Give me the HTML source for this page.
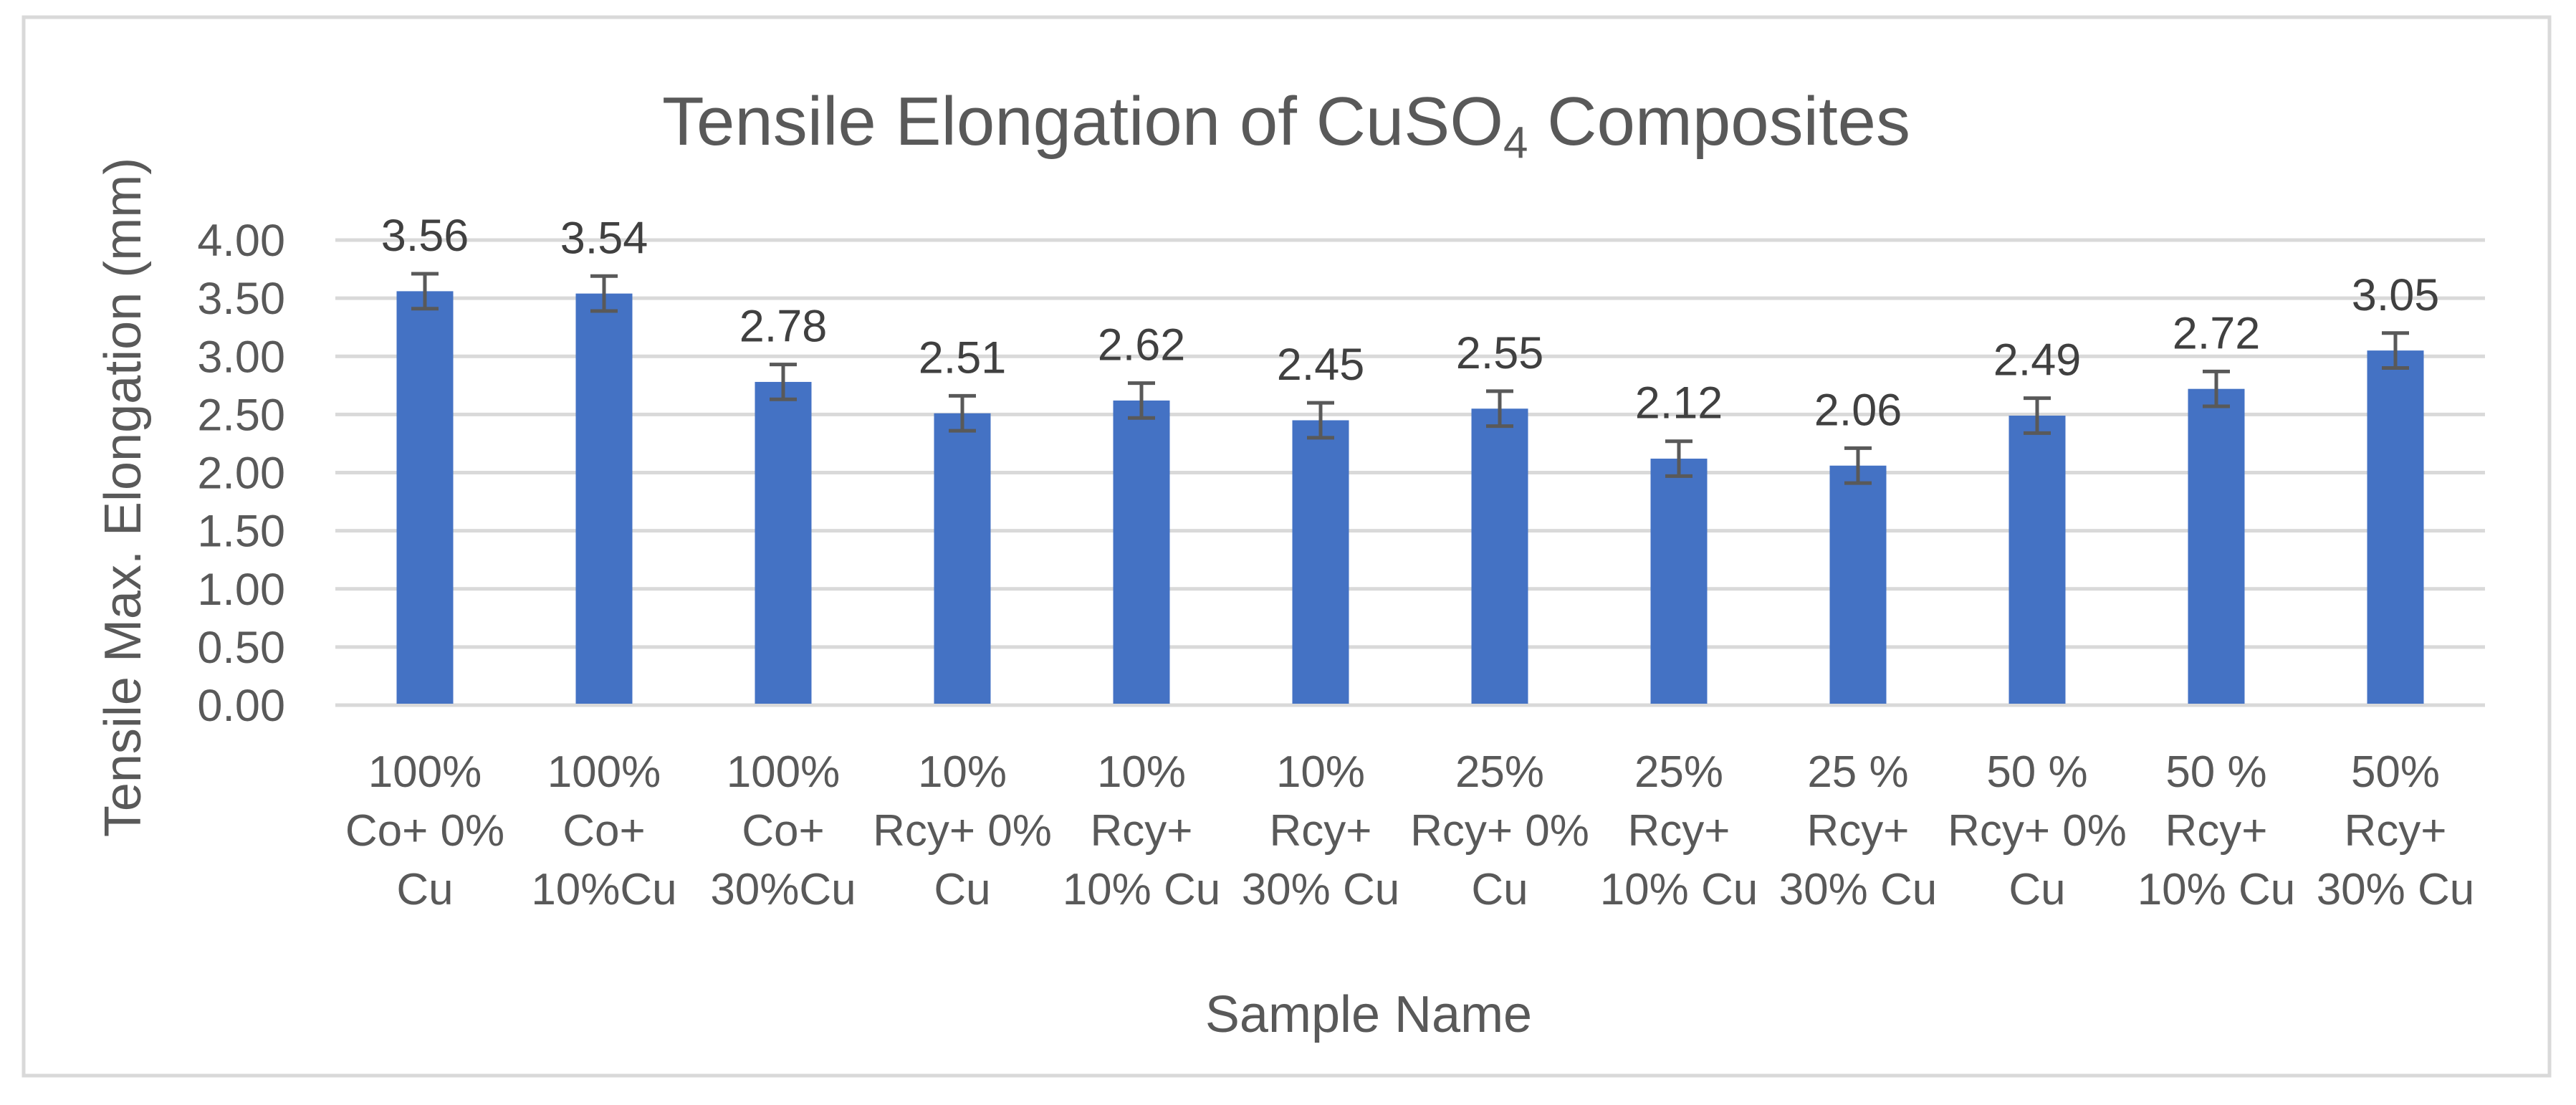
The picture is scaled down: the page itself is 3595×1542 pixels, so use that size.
<!DOCTYPE html>
<html><head><meta charset="utf-8"><style>
html,body{margin:0;padding:0;background:#fff}
svg{display:block}
text{font-family:"Liberation Sans",sans-serif;fill:#595959}
</style></head><body>
<svg id="chart" width="3595" height="1542" viewBox="0 0 3595 1542" xmlns="http://www.w3.org/2000/svg">
<rect x="33" y="24" width="3525" height="1477" fill="#fff" stroke="#D9D9D9" stroke-width="5"/>
<text x="1795" y="202" font-size="96" text-anchor="middle">Tensile Elongation of CuSO<tspan font-size="62" dy="18">4</tspan><tspan dy="-18"> Composites</tspan></text>
<text transform="translate(196,694) rotate(-90)" font-size="72" text-anchor="middle">Tensile Max. Elongation (mm)</text>
<text x="1910" y="1440" font-size="72" text-anchor="middle">Sample Name</text>
<g id="grid"></g>
<g id="yticks"></g>
<g id="bars"></g>
<g id="xlabels"></g>
</svg>
<script>
const categories = [
 ["100%","Co+ 0%","Cu"],["100%","Co+","10%Cu"],["100%","Co+","30%Cu"],
 ["10%","Rcy+ 0%","Cu"],["10%","Rcy+","10% Cu"],["10%","Rcy+","30% Cu"],
 ["25%","Rcy+ 0%","Cu"],["25%","Rcy+","10% Cu"],["25 %","Rcy+","30% Cu"],
 ["50 %","Rcy+ 0%","Cu"],["50 %","Rcy+","10% Cu"],["50%","Rcy+","30% Cu"]
];
const values = [3.56,3.54,2.78,2.51,2.62,2.45,2.55,2.12,2.06,2.49,2.72,3.05];
const errors = [0.15,0.15,0.15,0.15,0.15,0.15,0.15,0.15,0.15,0.15,0.15,0.15];
const yTicks = [0,0.5,1,1.5,2,2.5,3,3.5,4];
const yTickLabels = ["0.00","0.50","1.00","1.50","2.00","2.50","3.00","3.50","4.00"];

const NS="http://www.w3.org/2000/svg";
const plotL=468, plotR=3468, y0=984, y4=335, yMax=4;
const yScale=v=>y0-(v/yMax)*(y0-y4);
const band=(plotR-plotL)/categories.length;
const xCenter=i=>plotL+band*(i+0.5);
const barW=79;
function mk(tag,attrs,parent){const e=document.createElementNS(NS,tag);for(const k in attrs)e.setAttribute(k,attrs[k]);parent.appendChild(e);return e;}
const grid=document.getElementById('grid'),yt=document.getElementById('yticks'),bars=document.getElementById('bars'),xl=document.getElementById('xlabels');
yTicks.forEach((t,i)=>{
  const l=mk('line',{x1:plotL,x2:plotR,y1:yScale(t),y2:yScale(t),stroke:'#D9D9D9','stroke-width':5},grid);
  
  
  const tx=mk('text',{x:398,y:yScale(t)+22,'font-size':63,'text-anchor':'end'},yt);
  tx.textContent=yTickLabels[i];
  
  
});
values.forEach((v,i)=>{
  const cx=xCenter(i), top=yScale(v);
  const r=mk('rect',{x:cx-barW/2,y:top,width:barW,height:y0-top-2,fill:'#4472C4'},bars);
  
  
  const eT=yScale(v+errors[i]), eB=yScale(v-errors[i]);
  const g=mk('g',{stroke:'#595959','stroke-width':5},bars);
  
  
  mk('line',{x1:cx,x2:cx,y1:eT,y2:eB},g);
  mk('line',{x1:cx-19,x2:cx+19,y1:eT,y2:eT},g);
  mk('line',{x1:cx-19,x2:cx+19,y1:eB,y2:eB},g);
  const lab=mk('text',{x:cx,y:eT-32,'font-size':63,'text-anchor':'middle',style:'fill:#404040'},bars);
  lab.textContent=v.toFixed(2);
  
  
});
categories.forEach((c,i)=>{
  c.forEach((line,j)=>{
    const t=mk('text',{x:xCenter(i),y:1098+j*82,'font-size':62,'text-anchor':'middle'},xl);
    t.textContent=line;
    
    
  });
});
</script>
</body></html>
